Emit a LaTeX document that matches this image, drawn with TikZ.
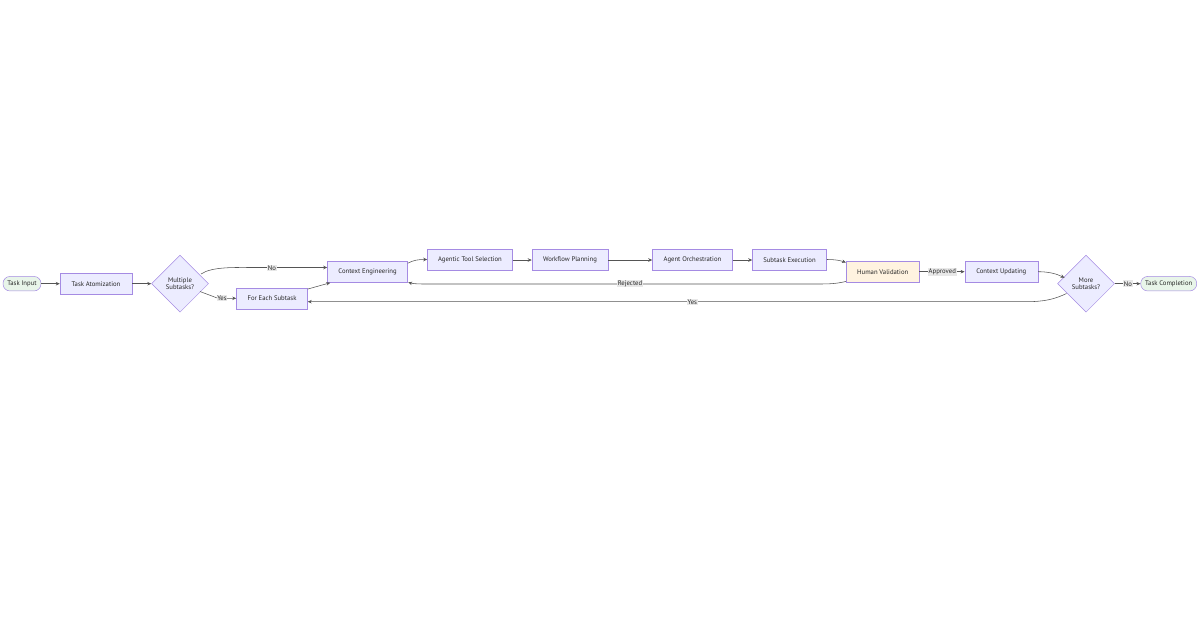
\documentclass[tikz,border=0pt]{standalone}
\usepackage{fontspec}
\setmainfont{PT Sans}
\usetikzlibrary{shapes.geometric,arrows.meta,calc}
\definecolor{nfill}{HTML}{ECECFF}
\definecolor{nstroke}{HTML}{A58BE3}
\definecolor{gfill}{HTML}{E8F5E9}
\definecolor{ofill}{HTML}{FFF3E0}
\definecolor{edgec}{HTML}{555555}
\definecolor{lblbg}{HTML}{E8E8E8}
\tikzset{
  base/.style={draw=nstroke, line width=0.5pt, inner sep=0pt, font=\fontsize{6.7}{7.7}\selectfont, text=black!85},
  proc/.style={base, rectangle, fill=nfill, minimum height=21pt},
  term/.style={base, rounded corners=7pt, fill=gfill, minimum height=14.5pt},
  dec/.style={base, diamond, fill=nfill, minimum width=57pt, minimum height=57pt, align=center},
  conn/.style={draw=edgec, line width=0.55pt, -{Stealth[length=4pt,width=3.5pt]}},
  lbl/.style={fill=lblbg, inner sep=0.8pt, font=\fontsize{6.7}{7.7}\selectfont, text=black!85}
}
\begin{document}
\begin{tikzpicture}[x=1pt,y=-1pt]
\useasboundingbox (0,0) rectangle (1200,630);
\node[term, minimum width=38pt] (ti) at (22,283.7) {Task Input};
\node[proc, minimum width=72pt] (ta) at (96,283.7) {Task Atomization};
\node[dec] (ms) at (180,283.7) {Multiple\\Subtasks?};
\node[proc, minimum width=71pt] (fe) at (272,298.3) {For Each Subtask};
\node[proc, minimum width=80pt] (ce) at (367.5,272) {Context Engineering};
\node[proc, minimum width=85pt] (ats) at (470,260) {Agentic Tool Selection};
\node[proc, minimum width=76pt] (wp) at (570,260) {Workflow Planning};
\node[proc, minimum width=80pt] (ao) at (692.5,260) {Agent Orchestration};
\node[proc, minimum width=74pt] (se) at (789.5,260) {Subtask Execution};
\node[proc, fill=ofill, minimum width=73pt] (hv) at (882.7,271.7) {Human Validation};
\node[proc, minimum width=73pt] (cu) at (1001.3,271.7) {Context Updating};
\node[dec] (mo) at (1086,283.7) {More\\Subtasks?};
\node[term, minimum width=56pt] (tc) at (1168.7,283.7) {Task Completion};

\draw[conn] (ti) -- (ta);
\draw[conn] (ta) -- (ms);
% No
\coordinate (n1) at (201,274);
\draw[conn] (n1) .. controls (212,266.5) and (235,267.5) .. (255,267.5) -- (ce.west |- 0,267.5);
\node[lbl] (lno) at (272,267.8) {No};
% Yes
\coordinate (y1) at (200,291.5);
\draw[conn] (y1) -- (218,298.3) -- (fe.west);
\node[lbl] (lyes) at (222,297.8) {Yes};
% FES -> CE
\draw[conn] ($(fe.north east)+(0,1.5)$) -- ($(ce.south west)+(3,0)$);
% CE -> ATS
\draw[conn] ($(ce.north east)+(0,2)$) .. controls (414,260) and (418,259.5) .. (ats.west |- 0,259.5);
\draw[conn] (ats) -- (wp);
\draw[conn] (wp) -- (ao);
\draw[conn] (ao) -- (se);
% SE -> HV
\draw[conn] (se.east |- 0,259.5) .. controls (836,259.5) and (840,260.5) .. ($(hv.north west)+(0,1.5)$);
% HV -> CE rejected
\draw[conn] ($(hv.south west)+(0,-1)$) .. controls (835,284) and (828,284) .. (815,284) -- (425,284) .. controls (416,284) and (412,283.5) .. ($(ce.south east)+(0.5,-0.5)$);
\node[lbl] (lrej) at (630,283.5) {Rejected};
% HV -> CU approved
\draw[conn] (hv) -- (cu);
\node[lbl] (lapp) at (942.3,271.7) {Approved};
% CU -> More
\draw[conn] (cu.east) .. controls (1048,271.7) and (1056,273.5) .. (1064.5,277.8);
% More -> FES yes
\draw[conn] (1066.5,293.5) .. controls (1055,299) and (1045,301.7) .. (1026,301.7) -- (fe.east |- 0,301.7);
\node[lbl] (lyes2) at (692.3,302) {Yes};
% More -> TC
\draw[conn] (mo) -- (tc);
\node[lbl] (lno2) at (1128,283.7) {No};
\end{tikzpicture}
\end{document}
